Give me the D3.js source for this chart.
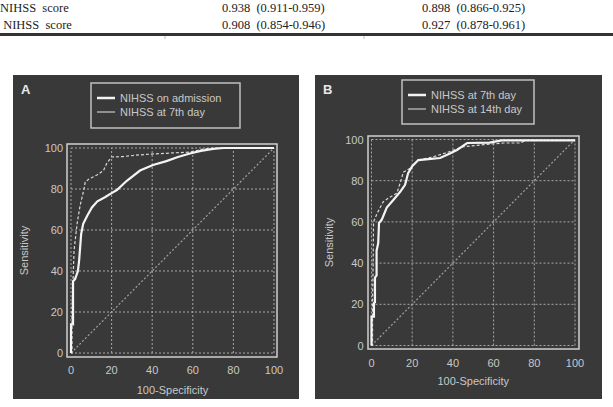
<!DOCTYPE html>
<html>
<head>
<meta charset="utf-8">
<script src="https://cdn.jsdelivr.net/npm/d3@7"></script>
<style>
  body { margin: 0; background: #fff; }
  .tbl { font-family: "Liberation Serif", "Times New Roman", serif; font-size: 12.5px; fill: #222; white-space: pre; }
  .lbl { font-family: "Liberation Sans", Arial, sans-serif; font-size: 11px; fill: #c8c8c8; }
  .letter { font-family: "Liberation Sans", Arial, sans-serif; font-size: 13px; font-weight: bold; fill: #e8e8e8; }
</style>
</head>
<body>
<svg id="chart" width="613" height="407"></svg>
<script>
// table rows above the figure
var tableRows = [
  ["NIHSS  score", "0.938  (0.911-0.959)", "0.898  (0.866-0.925)"],
  [" NIHSS  score", "0.908  (0.854-0.946)", "0.927  (0.878-0.961)"]
];

var ticks = [0, 20, 40, 60, 80, 100];

// panel A: [100-specificity, sensitivity]
var rocAdmission = [[0,0],[0,14],[1,14],[1,35],[2,36],[3.4,40],[4,45],[5,58],[6,63],[8,67],[10.3,71],[13,74],[16.7,76],[20,78],[22.6,79.5],[27.5,84],[34,89],[40.4,91.7],[47,93.6],[52.7,95.6],[58.6,97.3],[64,98.6],[70,99.6],[75,100],[100,100]];
var rocDay7A = [[0,0],[0.5,0],[0.5,20],[1,35],[1.5,50],[3,63],[4.5,72],[6.4,80],[7,83.4],[9,85],[12.8,86.8],[16,89],[17.7,92.7],[20,95.6],[25.6,95.8],[32,96.5],[39,97],[50,97.6],[58.6,98],[65,99.5],[70,100],[100,100]];

// panel B
var rocDay7B = [[0,0],[0,14],[1.2,14],[1.2,20.6],[1.7,21],[1.7,33],[2.5,34],[2.5,46],[3.3,49.7],[3.7,59.5],[5,61],[7.5,67],[10.7,70.6],[14,74.5],[16.5,78],[18,83.7],[20,87],[23,90],[28,90.5],[33.7,91],[38,93],[42,94.9],[47,98.3],[58,98.5],[64,99.6],[100,99.6]];
var rocDay14B = [[0,0],[0.5,0],[0.5,20],[0.8,40],[1,60],[2.7,64],[5.7,69.7],[9,72],[12.5,74],[15,81.8],[15.5,84],[19,86],[23,90],[30,91.5],[38,94],[44.6,96.4],[55,97.5],[65,98.3],[73,98.3],[76,99.6],[100,99.6]];

var panels = [
  {letter: "A", box: [13, 75, 286, 324], xr: [71, 274], yr: [353, 148], frame: [67, 144, 277, 357],
   legend: [91, 83, 149, 45], names: ["NIHSS on admission", "NIHSS at 7th day"],
   solid: rocAdmission, dashed: rocDay7A, ylabX: 28, xlabY: 394},
  {letter: "B", box: [315, 75, 287, 324], xr: [371.5, 575], yr: [345.5, 139.5], frame: [368, 136, 579, 349],
   legend: [402, 80, 132, 44], names: ["NIHSS at 7th day", "NIHSS at 14th day"],
   solid: rocDay7B, dashed: rocDay14B, ylabX: 333, xlabY: 385}
];

var svg = d3.select("#chart");

//Table text
var colX = [0, 222, 422];
tableRows.forEach(function(row, i){
  row.forEach(function(cell, j){
    svg.append("text")
      .attr("class", "tbl")
      .attr("x", colX[j])
      .attr("y", 12 + i * 17)
      .text(cell);
  });
});

svg.append("rect")
  .attr("x", 0).attr("y", 33).attr("width", 613).attr("height", 3)
  .style("fill", "#333");

[165, 364].forEach(function(x){
  svg.append("line")
    .attr("x1", x).attr("x2", x).attr("y1", 36).attr("y2", 39)
    .style("stroke", "#bbb");
});

panels.forEach(function(p){
  var g = svg.append("g");

  //Dark background
  g.append("rect")
    .attr("x", p.box[0]).attr("y", p.box[1])
    .attr("width", p.box[2]).attr("height", p.box[3])
    .style("fill", "#393939");

  var x = d3.scaleLinear().domain([0, 100]).range(p.xr);
  var y = d3.scaleLinear().domain([0, 100]).range(p.yr);

  //Dotted grid
  ticks.forEach(function(t){
    g.append("line")
      .attr("x1", x(t)).attr("x2", x(t)).attr("y1", y(0)).attr("y2", y(100))
      .style("stroke", "#a8a8a8").style("stroke-width", 1).style("stroke-dasharray", "2,2");
    g.append("line")
      .attr("x1", x(0)).attr("x2", x(100)).attr("y1", y(t)).attr("y2", y(t))
      .style("stroke", "#a8a8a8").style("stroke-width", 1).style("stroke-dasharray", "2,2");
  });

  //Frame
  g.append("rect")
    .attr("x", p.frame[0]).attr("y", p.frame[1])
    .attr("width", p.frame[2] - p.frame[0]).attr("height", p.frame[3] - p.frame[1])
    .style("fill", "none").style("stroke", "#cfcfcf").style("stroke-width", 1.5);

  //Tick labels
  ticks.forEach(function(t){
    g.append("text").attr("class", "lbl")
      .attr("x", x(0) - 8).attr("y", y(t) + 4)
      .attr("text-anchor", "end")
      .text(t);
    g.append("text").attr("class", "lbl")
      .attr("x", x(t)).attr("y", y(0) + 21)
      .attr("text-anchor", "middle")
      .text(t);
  });

  g.append("text").attr("class", "lbl")
    .attr("transform", "translate(" + p.ylabX + "," + ((y(0) + y(100)) / 2) + ") rotate(-90)")
    .attr("text-anchor", "middle")
    .text("Sensitivity");

  g.append("text").attr("class", "lbl")
    .attr("x", (x(0) + x(100)) / 2).attr("y", p.xlabY)
    .attr("text-anchor", "middle")
    .text("100-Specificity");

  g.append("text").attr("class", "letter")
    .attr("x", p.box[0] + 8).attr("y", 94)
    .text(p.letter);

  //Diagonal reference
  g.append("line")
    .attr("x1", x(0)).attr("y1", y(0)).attr("x2", x(100)).attr("y2", y(100))
    .style("stroke", "#a0a0a0").style("stroke-width", 1.2).style("stroke-dasharray", "2,2");

  var line = d3.line()
    .x(function(d){ return x(d[0]); })
    .y(function(d){ return y(d[1]); });

  g.append("path")
    .datum(p.dashed)
    .attr("d", line)
    .style("fill", "none").style("stroke", "#d8d8d8").style("stroke-width", 1.2)
    .style("stroke-dasharray", "3,2");

  g.append("path")
    .datum(p.solid)
    .attr("d", line)
    .style("fill", "none").style("stroke", "#f4f4f4").style("stroke-width", 2.2);

  //Legend
  var L = p.legend;
  g.append("rect")
    .attr("x", L[0]).attr("y", L[1]).attr("width", L[2]).attr("height", L[3])
    .style("fill", "none").style("stroke", "#c0c0c0").style("stroke-width", 1.5);

  p.names.forEach(function(name, i){
    var ly = L[1] + 15 + i * 14;
    g.append("line")
      .attr("x1", L[0] + 6).attr("x2", L[0] + 24).attr("y1", ly).attr("y2", ly)
      .style("stroke", i == 0 ? "#f4f4f4" : "#c8c8c8")
      .style("stroke-width", i == 0 ? 2.5 : 1.2);
    g.append("text").attr("class", "lbl")
      .attr("x", L[0] + 29).attr("y", ly + 4)
      .text(name);
  });
});
</script>
</body>
</html>
